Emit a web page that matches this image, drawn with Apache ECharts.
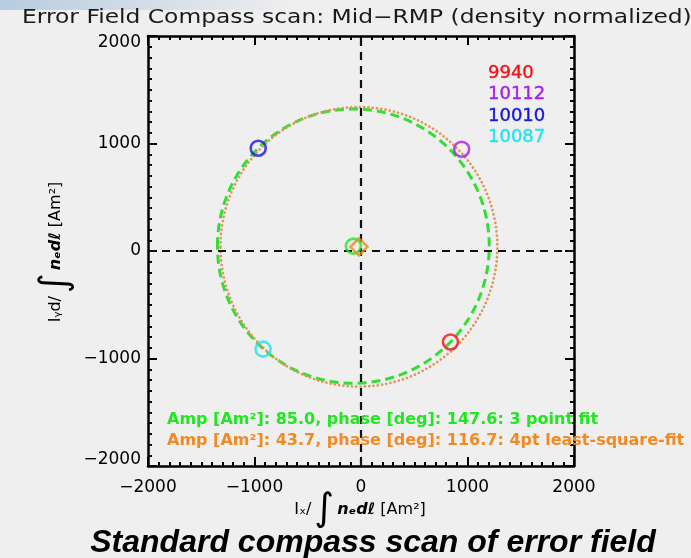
<!DOCTYPE html>
<html>
<head>
<meta charset="utf-8">
<script src="https://cdn.jsdelivr.net/npm/echarts@6/dist/echarts.min.js"></script>
<style>
  html, body { margin: 0; padding: 0; background: #efefef; }
  #chart { width: 691px; height: 558px; }
</style>
</head>
<body>
<div id="chart"></div>
<script>
// Shot numbers and their measured locked-mode coordinates [Am²]
const shotIds = ['9940', '10112', '10010', '10087'];
const shotX = [840, 945, -965, -919];
const shotY = [-846, 947, 956, -913];

// Fitted intrinsic error field: amplitude [Am²], phase [deg], fitted circle radius [Am²]
const fitNames = ['3 point fit', '4pt least-square-fit'];
const fitAmp = [85.0, 43.7];
const fitPhase = [147.6, 116.7];
const fitRadius = [1276, 1300];

// Axis range and labelled ticks
const axisMin = -2000, axisMax = 2000, axisStep = 1000;

const shotColors = ['#f21414', '#a41fe8', '#1818dc', '#20e4ec'];
const fitColors = ['#22e622', '#f08a24'];
const fitCircleColors = ['#33dd33', '#d99a5a'];

const toRad = d => d * Math.PI / 180;
const fitCenters = fitAmp.map((a, i) => [a * Math.cos(toRad(fitPhase[i])), a * Math.sin(toRad(fitPhase[i]))]);

const FONT = 'DejaVu Sans';
const minus = v => String(v).replace('-', '\u2212');

function makeAxis(pos, showLabels, vertical) {
  const label = { show: showLabels, color: '#000', fontFamily: FONT, fontSize: 17,
    margin: vertical ? 7 : 13, formatter: minus };
  if (vertical) {
    // end labels sit just inside the frame
    label.formatter = v => v === axisMax ? '{top|' + minus(v) + '}' : v === axisMin ? '{bot|' + minus(v) + '}' : minus(v);
    label.rich = {
      top: { fontFamily: FONT, fontSize: 17, color: '#000', padding: [13, 0, 0, 0] },
      bot: { fontFamily: FONT, fontSize: 17, color: '#000', padding: [0, 0, 12, 0] }
    };
  }
  return {
    type: 'value', position: pos, min: axisMin, max: axisMax, interval: axisStep,
    axisLine: { show: true, onZero: false, lineStyle: { color: '#000', width: 2.5 } },
    axisTick: { show: true, inside: true, length: 9, lineStyle: { color: '#000', width: 2 } },
    minorTick: { show: true, splitNumber: 10, length: 4, lineStyle: { color: '#000', width: 2 } },
    splitLine: { show: false },
    axisLabel: label
  };
}

const chart = echarts.init(document.getElementById('chart'), null, { renderer: 'canvas' });

const series = [];

// Fitted circles, scaled through the axes
fitNames.forEach((name, i) => {
  series.push({
    type: 'custom', name: name, z: 3,
    data: [[fitCenters[i][0], fitCenters[i][1], fitRadius[i]]],
    renderItem: (params, api) => {
      const c = api.coord([api.value(0), api.value(1)]);
      const s = api.size([api.value(2), api.value(2)]);
      return {
        type: 'ellipse',
        shape: { cx: c[0], cy: c[1], rx: s[0], ry: s[1] },
        style: i === 0
          ? { fill: 'none', stroke: fitCircleColors[i], lineWidth: 3, lineDash: [9, 5] }
          : { fill: 'none', stroke: fitCircleColors[i], lineWidth: 2.7, lineDash: [0.1, 4.2], lineCap: 'round' }
      };
    }
  });
});

// Zero lines
series.push({
  type: 'line', data: [], z: 2,
  markLine: {
    silent: true, symbol: 'none', label: { show: false },
    lineStyle: { color: '#111', width: 2.2, type: [8, 6] },
    data: [{ xAxis: 0 }, { yAxis: 0 }]
  }
});

// Shot markers
shotIds.forEach((id, i) => {
  series.push({
    type: 'scatter', name: id, z: 5,
    symbol: 'circle', symbolSize: 15,
    itemStyle: { color: 'rgba(0,0,0,0)', borderColor: shotColors[i], borderWidth: 2.6 },
    data: [[shotX[i], shotY[i]]]
  });
});

// Fitted error-field centres
series.push({
  type: 'scatter', z: 6, symbol: 'circle', symbolSize: 15,
  itemStyle: { color: 'rgba(0,0,0,0)', borderColor: fitColors[0], borderWidth: 2.6 },
  data: [fitCenters[0]]
});
series.push({
  type: 'scatter', z: 7, symbol: 'diamond', symbolSize: 17,
  itemStyle: { color: 'rgba(0,0,0,0)', borderColor: fitColors[1], borderWidth: 2.6 },
  data: [fitCenters[1]]
});

const graphics = [
  { type: 'rect', shape: { x: 0, y: 0, width: 691, height: 558 }, style: { fill: '#efefef' }, z: -10 },
  { type: 'rect', shape: { x: 0, y: 0, width: 300, height: 10 }, z: -9,
    style: { fill: new echarts.graphic.LinearGradient(0, 0, 1, 0, [
      { offset: 0, color: 'rgba(170,195,220,0.8)' }, { offset: 1, color: 'rgba(170,195,220,0)' }]) } },
  { type: 'text', x: 22, y: 18, scaleX: 1.23, z: 10,
    style: { text: 'Error Field Compass scan: Mid\u2212RMP (density normalized)', fontFamily: FONT,
      fontSize: 19, fill: '#1a1a1a', verticalAlign: 'middle' } }
];

// Shot legend
shotIds.forEach((id, i) => {
  graphics.push({ type: 'text', x: 488, y: 73 + i * 21.5, z: 10,
    style: { text: id, fontFamily: FONT, fontSize: 18, fill: shotColors[i], verticalAlign: 'middle',
      stroke: shotColors[i], lineWidth: 0.4 } });
});

// Fit annotations
fitNames.forEach((name, i) => {
  graphics.push({ type: 'text', x: 167, y: 420 + i * 20.5, z: 10,
    style: { text: 'Amp [Am\u00b2]: ' + fitAmp[i].toFixed(1) + ', phase [deg]: ' + fitPhase[i].toFixed(1) + ': ' + name,
      fontFamily: FONT, fontWeight: 'bold', fontSize: 16, fill: fitColors[i], verticalAlign: 'middle' } });
});

// Axis titles
const titleRich = {
  a: { fontFamily: FONT, fontSize: 16, fill: '#000' },
  i: { fontFamily: FONT, fontSize: 38, fill: '#000', padding: [0, 3, 0, 3] },
  b: { fontFamily: FONT, fontSize: 16, fill: '#000', fontWeight: 'bold', fontStyle: 'italic' }
};
graphics.push({ type: 'text', x: 360, y: 510, z: 10,
  style: { text: '{a|I\u2093/}{i|\u222b}{b|n\u2091d\u2113}{a| [Am\u00b2]}',
    align: 'center', verticalAlign: 'middle', rich: titleRich } });
graphics.push({ type: 'text', x: 56, y: 252, rotation: Math.PI / 2, z: 10,
  style: { text: '{a|I\u1d67d/}{i|\u222b}{b|n\u2091d\u2113}{a| [Am\u00b2]}',
    align: 'center', verticalAlign: 'middle', rich: titleRich } });

// Caption
graphics.push({ type: 'text', x: 373, y: 543, z: 10,
  style: { text: 'Standard compass scan of error field', fontFamily: 'Liberation Sans',
    fontWeight: 'bold', fontStyle: 'italic', fontSize: 32, fill: '#000', align: 'center', verticalAlign: 'middle' } });

chart.setOption({
  backgroundColor: '#efefef',
  animation: false,
  grid: { left: 148, top: 36, width: 426, height: 430, containLabel: false },
  xAxis: [makeAxis('bottom', true, false), makeAxis('top', false, false)],
  yAxis: [makeAxis('left', true, true), makeAxis('right', false, true)],
  series: series,
  graphic: graphics
});
</script>
</body>
</html>
